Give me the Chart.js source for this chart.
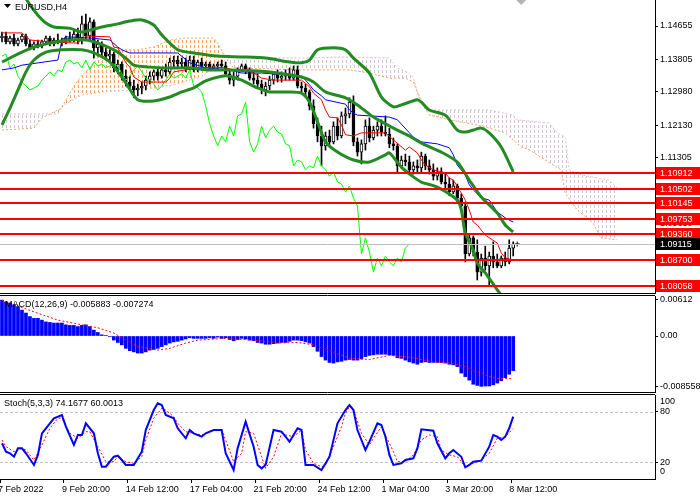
<!DOCTYPE html>
<html>
<head>
<meta charset="utf-8">
<title>EURUSD H4</title>
<script src="https://cdn.jsdelivr.net/npm/chart.js@4.4.1/dist/chart.umd.min.js"></script>
<style>
  html, body { margin: 0; padding: 0; background: #fff; }
  #board { position: relative; width: 700px; height: 500px; overflow: hidden; background: #fff; }
  #board canvas { position: absolute; left: 0; }
</style>
</head>
<body>
<div id="board">
  <canvas id="main" width="700" height="294" style="top:0px"></canvas>
  <canvas id="macd" width="700" height="98" style="top:295px"></canvas>
  <canvas id="stoch" width="700" height="106" style="top:394px"></canvas>
</div>
<script>
const FONT = '"Liberation Sans", Arial, sans-serif';
Chart.defaults.font.family = FONT;
Chart.defaults.font.size = 9;
Chart.defaults.color = '#000';

function $(id){
    return document.getElementById(id);
}

// time axis: bar numbers on H4, the last ones hold the cloud shifted 26 bars ahead
const bars = [];
for (let i = 0; i < 164; i++) bars.push(i);
const timeTickBars = [0, 16, 32, 48, 64, 80, 96, 112, 128];
const timeTickText = ["7 Feb 2022", "9 Feb 20:00", "14 Feb 12:00", "17 Feb 04:00", "21 Feb 20:00",
                      "24 Feb 12:00", "1 Mar 04:00", "3 Mar 20:00", "8 Mar 12:00"];

// candles
const opens = [
 1.1435,1.1440,1.1425,1.1435,1.1420,1.1430,1.1440,1.1420,1.1410,1.1420,
 1.1415,1.1425,1.1435,1.1420,1.1430,1.1425,1.1430,1.1435,1.1430,1.1445,
 1.1435,1.1471,1.1440,1.1476,1.1410,1.1420,1.1399,1.1389,1.1394,1.1359,
 1.1369,1.1338,1.1323,1.1313,1.1303,1.1308,1.1313,1.1328,1.1338,1.1349,
 1.1338,1.1354,1.1349,1.1374,1.1379,1.1369,1.1374,1.1359,1.1379,1.1354,
 1.1374,1.1364,1.1369,1.1359,1.1364,1.1369,1.1364,1.1344,1.1328,1.1338,
 1.1354,1.1364,1.1349,1.1333,1.1328,1.1318,1.1303,1.1313,1.1328,1.1344,
 1.1333,1.1338,1.1344,1.1333,1.1354,1.1313,1.1308,1.1298,1.1262,1.1217,
 1.1186,1.1161,1.1186,1.1171,1.1211,1.1186,1.1237,1.1242,1.1272,1.1171,
 1.1145,1.1166,1.1211,1.1181,1.1201,1.1211,1.1196,1.1191,1.1166,1.1161,
 1.1110,1.1125,1.1120,1.1100,1.1110,1.1105,1.1135,1.1110,1.1100,1.1084,
 1.1095,1.1069,1.1064,1.1044,1.1059,1.1028,1.1008,1.0886,1.0927,1.0891,
 1.0840,1.0876,1.0856,1.0881,1.0866,1.0856,1.0876,1.0866,1.0901
];
const highs = [
 1.1450,1.1450,1.1440,1.1445,1.1435,1.1445,1.1445,1.1430,1.1425,1.1430,
 1.1430,1.1440,1.1440,1.1435,1.1445,1.1435,1.1440,1.1450,1.1455,1.1460,
 1.1491,1.1496,1.1486,1.1481,1.1430,1.1425,1.1410,1.1405,1.1399,1.1379,
 1.1374,1.1354,1.1338,1.1328,1.1318,1.1323,1.1338,1.1349,1.1354,1.1359,
 1.1359,1.1369,1.1384,1.1389,1.1389,1.1384,1.1384,1.1389,1.1389,1.1379,
 1.1384,1.1374,1.1374,1.1369,1.1374,1.1379,1.1374,1.1354,1.1349,1.1359,
 1.1369,1.1369,1.1359,1.1349,1.1344,1.1328,1.1323,1.1338,1.1349,1.1354,
 1.1349,1.1354,1.1359,1.1364,1.1364,1.1323,1.1318,1.1303,1.1278,1.1232,
 1.1211,1.1196,1.1201,1.1222,1.1232,1.1247,1.1257,1.1283,1.1288,1.1181,
 1.1176,1.1227,1.1232,1.1211,1.1222,1.1227,1.1237,1.1206,1.1181,1.1166,
 1.1135,1.1140,1.1135,1.1120,1.1125,1.1145,1.1140,1.1125,1.1115,1.1105,
 1.1105,1.1089,1.1079,1.1074,1.1064,1.1039,1.1018,1.0937,1.0932,1.0922,
 1.0886,1.0906,1.0891,1.0917,1.0886,1.0881,1.0891,1.0922,1.0917
];
const lows = [
 1.1425,1.1420,1.1420,1.1415,1.1415,1.1425,1.1415,1.1405,1.1405,1.1410,
 1.1410,1.1420,1.1415,1.1415,1.1420,1.1415,1.1420,1.1425,1.1425,1.1420,
 1.1420,1.1430,1.1430,1.1384,1.1389,1.1389,1.1379,1.1374,1.1349,1.1344,
 1.1328,1.1313,1.1303,1.1283,1.1288,1.1293,1.1303,1.1318,1.1328,1.1328,
 1.1333,1.1338,1.1344,1.1359,1.1359,1.1359,1.1349,1.1354,1.1349,1.1349,
 1.1354,1.1354,1.1354,1.1354,1.1354,1.1359,1.1338,1.1318,1.1313,1.1328,
 1.1349,1.1344,1.1328,1.1318,1.1308,1.1293,1.1288,1.1303,1.1318,1.1323,
 1.1323,1.1328,1.1328,1.1328,1.1308,1.1298,1.1288,1.1252,1.1206,1.1171,
 1.1110,1.1150,1.1161,1.1166,1.1176,1.1181,1.1217,1.1232,1.1161,1.1135,
 1.1115,1.1150,1.1171,1.1176,1.1186,1.1186,1.1186,1.1156,1.1150,1.1095,
 1.1105,1.1110,1.1089,1.1089,1.1095,1.1095,1.1100,1.1089,1.1074,1.1074,
 1.1064,1.1054,1.1034,1.1039,1.1018,1.0998,1.0866,1.0881,1.0881,1.0820,
 1.0830,1.0845,1.0806,1.0851,1.0851,1.0851,1.0856,1.0861,1.0881
];
const closes = [
 1.1440,1.1425,1.1435,1.1420,1.1430,1.1440,1.1420,1.1410,1.1420,1.1415,
 1.1425,1.1435,1.1420,1.1430,1.1425,1.1430,1.1435,1.1430,1.1445,1.1435,
 1.1471,1.1440,1.1476,1.1410,1.1420,1.1399,1.1389,1.1394,1.1359,1.1369,
 1.1338,1.1323,1.1313,1.1303,1.1308,1.1313,1.1328,1.1338,1.1349,1.1338,
 1.1354,1.1349,1.1374,1.1379,1.1369,1.1374,1.1359,1.1379,1.1354,1.1374,
 1.1364,1.1369,1.1359,1.1364,1.1369,1.1364,1.1344,1.1328,1.1338,1.1354,
 1.1364,1.1349,1.1333,1.1328,1.1318,1.1303,1.1313,1.1328,1.1344,1.1333,
 1.1338,1.1344,1.1333,1.1354,1.1313,1.1308,1.1298,1.1262,1.1217,1.1186,
 1.1161,1.1186,1.1171,1.1211,1.1186,1.1237,1.1242,1.1272,1.1171,1.1145,
 1.1166,1.1211,1.1181,1.1201,1.1211,1.1196,1.1191,1.1166,1.1161,1.1110,
 1.1125,1.1120,1.1100,1.1110,1.1105,1.1135,1.1110,1.1100,1.1084,1.1095,
 1.1069,1.1064,1.1044,1.1059,1.1028,1.1008,1.0886,1.0927,1.0891,1.0840,
 1.0876,1.0856,1.0881,1.0866,1.0856,1.0876,1.0866,1.0901,1.09115
];

// price window
const priceMin = 1.07844, priceMax = 1.15316;
const priceTicks = [1.14655, 1.13805, 1.12980, 1.12130, 1.11305, 1.10480, 1.09630, 1.07955];
const levels = [1.10912, 1.10502, 1.10145, 1.09753, 1.09360, 1.08700, 1.08058];
const bid = 1.09115;
const bidBar = 129;   // the small bid cross just right of the last candle

// bollinger bands, [bar, price]
const bbUpper = [[5,1.1552],[7,1.1519],[9,1.1493],[11,1.1473],[13,1.1463],[17,1.1460],[20,1.1450],[22,1.1455],
 [25,1.1463],[29,1.1471],[32,1.1478],[35,1.1481],[38,1.1468],[40,1.1443],[44,1.1405],[48,1.1397],[54,1.1389],
 [60,1.1387],[66,1.1384],[72,1.1374],[75,1.1372],[77,1.1379],[79,1.1405],[83,1.1410],[86,1.1405],[88,1.1384],
 [92,1.1346],[95,1.1285],[98,1.1260],[100,1.1265],[104,1.1278],[105,1.1272],[107,1.1252],[111,1.1239],
 [114,1.1201],[116,1.1196],[118,1.1201],[120,1.1206],[122,1.1194],[125,1.1158],[128,1.1095]];
const bbMiddle = [[0,1.1374],[5,1.1399],[8,1.1412],[12,1.1422],[17,1.1430],[21,1.1430],[24,1.1422],[28,1.1405],
 [31,1.1384],[33,1.1366],[37,1.1361],[42,1.1359],[47,1.1359],[52,1.1354],[57,1.1354],[64,1.1351],[69,1.1346],
 [75,1.1336],[78,1.1323],[81,1.1298],[86,1.1283],[89,1.1265],[93,1.1234],[98,1.1206],[102,1.1186],[105,1.1168],
 [110,1.1145],[114,1.1120],[117,1.1074],[120,1.1031],[124,1.0990],[126,1.0960],[128,1.0942]];
const bbLower = [[0,1.1214],[2,1.1257],[4,1.1303],[6,1.1349],[8,1.1379],[11,1.1399],[15,1.1405],[20,1.1405],
 [23,1.1397],[27,1.1374],[31,1.1321],[34,1.1278],[38,1.1275],[42,1.1285],[45,1.1298],[48,1.1308],[51,1.1326],
 [55,1.1338],[57,1.1338],[60,1.1328],[64,1.1308],[67,1.1298],[72,1.1298],[75,1.1295],[77,1.1272],[79,1.1222],
 [81,1.1171],[84,1.1145],[88,1.1125],[92,1.1120],[96,1.1138],[97,1.1143],[100,1.1107],[103,1.1082],[105,1.1069],
 [109,1.1056],[114,1.1023],[115,1.0998],[116,1.0939],[118,1.0896],[119,1.0863],[121,1.0838],[124,1.0795],
 [125,1.0782],[128,1.0756]];

// ichimoku, [bar, price]
const tenkan = [[0,1.1448],[5,1.1448],[7,1.1430],[12,1.1425],[19,1.1422],[21,1.1440],[27,1.1438],[28,1.1412],
 [29,1.1410],[30,1.1392],[31,1.1372],[32,1.1361],[33,1.1336],[35,1.1323],[41,1.1323],[42,1.1333],[43,1.1349],
 [46,1.1354],[49,1.1359],[53,1.1361],[56,1.1359],[58,1.1354],[61,1.1354],[63,1.1346],[65,1.1333],[68,1.1328],
 [75,1.1328],[77,1.1311],[78,1.1295],[80,1.1278],[81,1.1252],[82,1.1234],[84,1.1232],[85,1.1214],[86,1.1189],
 [88,1.1186],[90,1.1194],[96,1.1194],[98,1.1176],[101,1.1150],[102,1.1158],[104,1.1143],[105,1.1125],
 [106,1.1112],[108,1.1100],[110,1.1095],[111,1.1092],[112,1.1079],[113,1.1074],[115,1.1041],[116,1.1023],
 [117,1.0998],[118,1.0967],[119,1.0960],[121,1.0934],[124,1.0914],[125,1.0889],[126,1.0876],[128,1.0871]];
const kijun = [[0,1.1354],[3,1.1359],[5,1.1366],[14,1.1379],[15,1.1430],[16,1.1438],[22,1.1435],[27,1.1430],
 [29,1.1412],[30,1.1405],[32,1.1397],[44,1.1397],[47,1.1372],[51,1.1359],[57,1.1354],[60,1.1346],[65,1.1346],
 [75,1.1338],[76,1.1328],[77,1.1316],[78,1.1303],[80,1.1288],[81,1.1278],[86,1.1267],[87,1.1252],[88,1.1244],
 [89,1.1239],[97,1.1234],[99,1.1227],[102,1.1194],[103,1.1183],[105,1.1171],[109,1.1166],[112,1.1156],
 [113,1.1138],[114,1.1112],[116,1.1087],[117,1.1062],[118,1.1049],[120,1.1029],[122,1.1023],[124,1.0993],
 [126,1.0978],[128,1.0967]];
const senkouA = [[0,1.1201],[8,1.1206],[10,1.1232],[15,1.1257],[16,1.1278],[19,1.1328],[22,1.1361],[25,1.1397],
 [28,1.1410],[31,1.1405],[34,1.1405],[38,1.1412],[42,1.1430],[46,1.1435],[53,1.1435],[54,1.1422],[56,1.1384],
 [58,1.1359],[75,1.1354],[87,1.1354],[92,1.1346],[97,1.1333],[101,1.1333],[103,1.1323],[105,1.1270],
 [107,1.1239],[112,1.1227],[119,1.1214],[122,1.1206],[126,1.1194],[130,1.1158],[132,1.1151],[138,1.1112],
 [140,1.1100],[141,1.1041],[144,1.0998],[148,1.0965],[150,1.0927],[154,1.0922]];
const senkouB = [[0,1.1242],[14,1.1242],[15,1.1262],[20,1.1290],[25,1.1298],[33,1.1303],[38,1.1308],[43,1.1316],
 [47,1.1328],[50,1.1336],[53,1.1361],[56,1.1379],[58,1.1387],[75,1.1384],[87,1.1387],[97,1.1384],[99,1.1359],
 [102,1.1346],[103,1.1333],[104,1.1298],[105,1.1278],[107,1.1252],[122,1.1252],[128,1.1239],[129,1.1227],
 [137,1.1219],[139,1.1194],[141,1.1183],[142,1.1100],[145,1.1087],[152,1.1074],[154,1.1054]];

// macd
const macdHist = [
 0.0061,0.0058,0.0056,0.0053,0.0050,0.0044,0.0039,0.0033,0.0030,0.0030,
 0.0027,0.0024,0.0023,0.0022,0.0022,0.0022,0.0019,0.0018,0.0018,0.0016,
 0.0018,0.0019,0.0016,0.0010,0.0006,0.0002,0.0001,-0.0001,-0.0007,-0.0011,
 -0.0015,-0.0021,-0.0025,-0.0027,-0.0029,-0.0029,-0.0027,-0.0024,-0.0023,-0.0021,
 -0.0018,-0.0015,-0.0012,-0.0010,-0.0009,-0.0007,-0.0005,-0.0003,-0.0004,-0.0004,
 -0.0004,-0.0004,-0.0003,-0.0004,-0.0002,-0.0004,-0.0003,-0.0006,-0.0008,-0.0006,
 -0.0004,-0.0005,-0.0007,-0.0008,-0.0011,-0.0012,-0.0014,-0.0014,-0.0013,-0.0012,
 -0.0011,-0.0011,-0.0009,-0.0007,-0.0007,-0.0008,-0.0010,-0.0012,-0.0018,-0.0026,
 -0.0035,-0.0041,-0.0045,-0.0046,-0.0044,-0.0043,-0.0041,-0.0040,-0.0041,-0.0041,
 -0.0039,-0.0035,-0.0033,-0.0032,-0.0031,-0.0031,-0.0031,-0.0032,-0.0033,-0.0037,
 -0.0038,-0.0041,-0.0044,-0.0046,-0.0048,-0.0045,-0.0044,-0.0045,-0.0045,-0.0045,
 -0.0045,-0.0046,-0.0048,-0.0049,-0.0052,-0.0063,-0.0069,-0.0075,-0.0082,-0.0084,
 -0.008558,-0.0085,-0.0085,-0.0083,-0.0080,-0.0076,-0.0071,-0.0065,-0.005883
];
const macdSignal = [[0,0.0061],[8,0.0041],[14,0.0027],[20,0.0019],[24,0.0014],[28,0.0005],[31,-0.0007],
 [34,-0.0018],[39,-0.0024],[42,-0.0021],[46,-0.0012],[49,-0.0007],[56,-0.0004],[63,-0.0007],[69,-0.0012],
 [74,-0.0011],[78,-0.0015],[83,-0.0027],[87,-0.0038],[92,-0.0040],[97,-0.0033],[102,-0.0036],[108,-0.0044],
 [112,-0.0046],[115,-0.0050],[119,-0.0061],[122,-0.0069],[124,-0.0072],[128,-0.007274]];
const macdMin = -0.00952, macdMax = 0.0068;
const macdTicks = [0.00612, 0, -0.008558];
const macdTickText = ["0.00612", "0.00", "-0.008558"];
const macdTitle = "MACD(12,26,9) -0.005883 -0.007274";

// stochastic
const stochMain = [[0,42.5],[1,32.5],[2,30.6],[3,26.5],[4,36.5],[5,36.5],[6,30.6],[8,16.7],[9,28.6],[10,54.4],
 [13,72.3],[15,76.2],[16,62.3],[18,40.5],[19,52.4],[20,52.4],[21,66.3],[23,54.4],[24,30.6],[25,14.6],[26,14.6],
 [28,26.5],[29,27.7],[30,22.6],[31,16.7],[33,16.7],[35,32.5],[36,58.3],[38,82.1],[39,90.1],[40,88.1],[41,76.2],
 [43,72.3],[44,60.4],[46,48.5],[47,58.3],[48,54.4],[50,50.4],[51,54.4],[53,58.3],[55,58.3],[56,30.6],[58,10.7],
 [59,36.5],[61,68.2],[63,38.5],[64,16.7],[65,12.7],[66,16.7],[68,58.3],[70,56.3],[72,44.4],[74,60.4],[75,58.3],
 [76,16.7],[78,16.7],[80,10.7],[82,26.5],[84,66.3],[86,82.1],[87,88.1],[88,82.1],[89,58.3],[91,34.5],[92,44.4],
 [94,66.3],[95,64.3],[96,50.4],[97,28.6],[98,16.7],[100,18.7],[101,22.6],[103,24.6],[104,36.5],[105,59.2],
 [108,57.5],[109,42.5],[111,24.6],[112,30.6],[113,34.5],[115,26.5],[116,13.9],[117,16.7],[118,20.6],[120,21.8],
 [122,38.5],[123,52.4],[124,50.4],[125,46.4],[126,50.4],[127,60.4],[128,74.1677]];
const stochSignal = [[0,46.4],[1,38.5],[3,32.5],[5,36.5],[6,34.5],[8,22.6],[10,40.5],[12,60.4],[14,72.3],
 [15,72.3],[17,54.4],[19,48.5],[21,56.3],[22,56.3],[24,38.5],[26,20.6],[28,20.6],[29,26.5],[31,20.6],[33,18.7],
 [35,26.5],[36,46.4],[38,72.3],[40,84.2],[41,82.1],[43,74.2],[44,66.3],[46,56.3],[48,54.4],[50,52.4],[53,58.3],
 [55,58.3],[56,46.4],[58,20.6],[60,30.6],[61,56.3],[63,54.4],[65,26.5],[66,12.7],[68,26.5],[70,54.4],[71,52.4],
 [73,50.4],[75,58.3],[76,34.5],[78,18.7],[80,14.6],[81,16.7],[83,38.5],[85,62.3],[86,78.2],[87,86.1],[88,82.1],
 [90,54.4],[92,40.5],[93,48.5],[95,62.3],[96,52.4],[98,32.5],[99,20.6],[101,20.6],[103,28.6],[105,46.4],
 [107,52.4],[109,50.4],[110,34.5],[112,28.6],[114,26.5],[116,14.6],[118,18.7],[120,22.6],[122,30.6],[124,48.5],
 [126,50.4],[128,60.0013]];
const stochLevels = [20, 80];
const stochTitle = "Stoch(5,3,3) 74.1677 60.0013";

const BB = '#228b22';

function xy(pairs){
    return pairs.map(p => ({x: p[0], y: p[1]}));
}

function line(data, color, width, order, extra){
    return Object.assign({type: 'line', data: data, borderColor: color, borderWidth: width,
        pointRadius: 0, tension: 0, order: order}, extra || {});
}

// one dotted vertical stroke per bar, like the terminal draws the cloud
function hatch(ctx, color){
    const tile = document.createElement('canvas');
    tile.width = 4; tile.height = 5;
    const t = tile.getContext('2d');
    t.fillStyle = color;
    t.fillRect(2, 0, 1, 3);
    return ctx.createPattern(tile, 'repeat');
}

function hline(ctx, a, py){
    ctx.beginPath();
    ctx.moveTo(a.left, py);
    ctx.lineTo(a.right, py);
    ctx.stroke();
}

function tag(ctx, left, py, text, bg){
    ctx.fillStyle = bg;
    ctx.fillRect(left, py - 6, 44, 12);
    ctx.fillStyle = '#fff';
    ctx.fillText(text, left + 4, py + 0.5);
}

function rightAxis(min, max, ticks, text){
    return {
        position: 'right', min: min, max: max,
        // fixed width, and no extra room for half labels at the ends
        afterFit: s => { s.width = 45; s.paddingTop = 0; s.paddingBottom = 0; },
        afterBuildTicks: s => { s.ticks = ticks.map(v => ({value: v})); },
        border: {display: true, color: '#000'},
        grid: {drawOnChartArea: false, tickLength: 3, color: '#000'},
        ticks: {autoSkip: false, padding: 2, color: '#000', callback: (v, i) => text[i]}
    };
}

function baseOptions(pad){
    return {
        responsive: false, animation: false, events: [], devicePixelRatio: 1,
        layout: {padding: pad, autoPadding: false},
        plugins: {legend: {display: false}, tooltip: {enabled: false}}
    };
}

const mainDecor = {
    id: 'mainDecor',
    afterDatasetsDraw(chart){
        const {ctx, chartArea: a, scales: {y}} = chart;
        ctx.save();
        ctx.lineWidth = 1;
        ctx.strokeStyle = '#c0c0c0';
        hline(ctx, a, Math.round(y.getPixelForValue(bid)) + 0.5);
        ctx.lineWidth = 2;
        ctx.strokeStyle = '#ff0000';
        levels.forEach(v => hline(ctx, a, Math.round(y.getPixelForValue(v))));
        ctx.lineWidth = 1;
        ctx.strokeStyle = '#000';
        hline(ctx, a, a.bottom - 0.5);
        ctx.restore();
    },
    afterDraw(chart){
        const {ctx, chartArea: a, scales: {x, y}} = chart;
        ctx.save();
        ctx.font = '9px ' + FONT;
        ctx.textBaseline = 'middle';
        ctx.textAlign = 'left';
        levels.forEach(v => tag(ctx, a.right + 1, Math.round(y.getPixelForValue(v)), v.toFixed(5), '#ff0000'));
        tag(ctx, a.right + 1, Math.round(y.getPixelForValue(bid)), bid.toFixed(5), '#000');
        // symbol caption
        ctx.fillStyle = '#000';
        ctx.beginPath();
        ctx.moveTo(4, 4); ctx.lineTo(11, 4); ctx.lineTo(7.5, 8);
        ctx.closePath();
        ctx.fill();
        ctx.fillText('EURUSD,H4', 15, 7.5);
        // chart shift marker
        const sx = x.getPixelForValue(130);
        ctx.fillStyle = '#b4b4b4';
        ctx.beginPath();
        ctx.moveTo(sx - 5, 0); ctx.lineTo(sx + 5, 0); ctx.lineTo(sx, 5);
        ctx.closePath();
        ctx.fill();
        ctx.restore();
    }
};

const macdDecor = {
    id: 'macdDecor',
    afterDraw(chart){
        const {ctx, chartArea: a} = chart;
        ctx.save();
        ctx.strokeStyle = '#000';
        ctx.lineWidth = 1;
        hline(ctx, a, 0.5);
        hline(ctx, a, a.bottom + 0.5);
        ctx.font = '9px ' + FONT;
        ctx.textBaseline = 'middle';
        ctx.fillStyle = '#000';
        ctx.fillText(macdTitle, 5, 10);
        ctx.restore();
    }
};

const stochDecor = {
    id: 'stochDecor',
    beforeDatasetsDraw(chart){
        const {ctx, chartArea: a, scales: {y}} = chart;
        ctx.save();
        ctx.strokeStyle = '#c0c0c0';
        ctx.lineWidth = 1;
        ctx.setLineDash([3, 2]);
        stochLevels.forEach(v => hline(ctx, a, Math.round(y.getPixelForValue(v)) + 0.5));
        ctx.restore();
    },
    afterDraw(chart){
        const {ctx, chartArea: a, scales: {y}} = chart;
        ctx.save();
        ctx.strokeStyle = '#000';
        ctx.lineWidth = 1;
        hline(ctx, a, 0.5);
        ctx.font = '9px ' + FONT;
        ctx.textBaseline = 'middle';
        ctx.fillStyle = '#000';
        ctx.fillText(stochTitle, 4, 9.5);
        // the terminal pulls the end labels inside the window
        ctx.fillText('100', a.right + 5, y.getPixelForValue(100) + 7);
        ctx.fillText('0', a.right + 5, y.getPixelForValue(0) - 7);
        ctx.restore();
    }
};

// main window
const mainCtx = $("main").getContext('2d');
const orangeHatch = hatch(mainCtx, '#f4a460');
const thistleHatch = hatch(mainCtx, '#d8bfd8');

new Chart(mainCtx, {
    type: 'bar',
    data: {
        labels: bars,
        datasets: [
            line(xy(bbUpper), BB, 3, 1, {tension: 0.25}),
            line(xy(bbMiddle), BB, 3, 1, {tension: 0.25}),
            line(xy(bbLower), BB, 3, 1, {tension: 0.25}),
            line(xy(tenkan), '#ff0000', 1, 2),
            line(xy(kijun), '#0000ff', 1, 3),
            line(closes.slice(26), '#00ff00', 1, 4),   // chikou span: the closes drawn 26 bars back
            {type: 'bar', data: opens.map((o, i) => [o, closes[i]]), grouped: false, barThickness: 3,
             borderWidth: 1, borderSkipped: false, borderColor: '#000',
             backgroundColor: c => closes[c.dataIndex] > opens[c.dataIndex] ? '#fff' : '#000', order: 5},
            {type: 'bar', data: lows.map((l, i) => [l, highs[i]]), grouped: false, barThickness: 1,
             borderWidth: 0, backgroundColor: '#000', order: 6},
            line(xy(senkouA), '#f4a460', 1, 7, {borderDash: [2, 2],
                 fill: {target: '+1', above: orangeHatch, below: thistleHatch}}),
            line(xy(senkouB), '#d8bfd8', 1, 8, {borderDash: [2, 2]}),
            {type: 'line', data: [{x: bidBar, y: bid}], showLine: false, pointStyle: 'cross',
             pointRadius: 2.5, pointBorderWidth: 1, pointBorderColor: '#000', order: 0}
        ]
    },
    options: Object.assign(baseOptions(0), {
        scales: {
            x: {type: 'category', offset: true, display: false},
            y: rightAxis(priceMin, priceMax, priceTicks, priceTicks.map(v => v.toFixed(5)))
        }
    }),
    plugins: [mainDecor]
});

// macd window
new Chart($("macd"), {
    type: 'bar',
    data: {
        labels: bars,
        datasets: [
            line(xy(macdSignal), '#ff0000', 1, 1, {borderDash: [2, 2]}),
            {type: 'bar', data: macdHist, barThickness: 3, backgroundColor: '#0000ff', order: 2}
        ]
    },
    options: Object.assign(baseOptions({top: 1, bottom: 1}), {
        scales: {
            x: {type: 'category', offset: true, display: false},
            y: rightAxis(macdMin, macdMax, macdTicks, macdTickText)
        }
    }),
    plugins: [macdDecor]
});

// stochastic window with the time axis
new Chart($("stoch"), {
    type: 'line',
    data: {
        labels: bars,
        datasets: [
            line(xy(stochMain), '#0000ff', 2, 1),
            line(xy(stochSignal), '#ff0000', 1, 2, {borderDash: [2, 2]})
        ]
    },
    options: Object.assign(baseOptions({top: 1}), {
        scales: {
            x: {
                type: 'category', offset: true,
                afterFit: s => { s.height = 21; s.paddingLeft = 0; s.paddingRight = 0; },
                border: {display: true, color: '#000'},
                grid: {offset: true, drawOnChartArea: false, tickLength: 4,
                       color: c => timeTickBars.includes(c.index) ? '#000' : 'rgba(0,0,0,0)'},
                ticks: {autoSkip: false, maxRotation: 0, minRotation: 0, align: 'start', labelOffset: -4,
                        padding: 1, color: '#000',
                        callback: (v, i) => { const k = timeTickBars.indexOf(i); return k < 0 ? '' : timeTickText[k]; }}
            },
            y: rightAxis(0, 100, stochLevels, ['20', '80'])
        }
    }),
    plugins: [stochDecor]
});
</script>
</body>
</html>
